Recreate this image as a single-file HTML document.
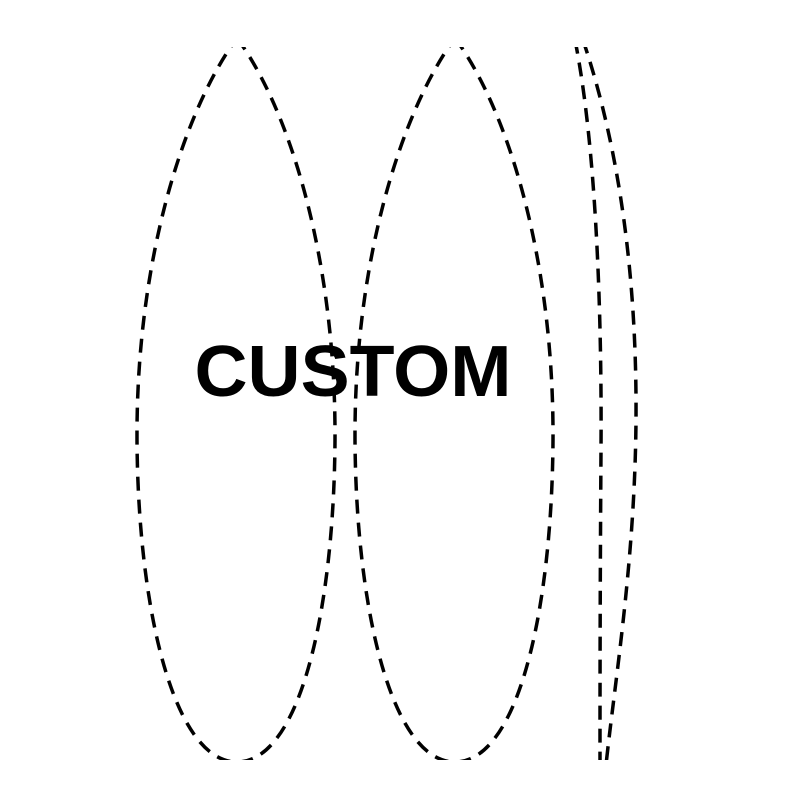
<!DOCTYPE html>
<html><head><meta charset="utf-8"><style>
html,body{margin:0;padding:0;background:#fff;width:800px;height:800px;overflow:hidden}
svg{display:block}
</style></head><body>
<svg width="800" height="800" viewBox="0 0 800 800" xmlns="http://www.w3.org/2000/svg">
<defs><clipPath id="c"><rect x="0" y="47" width="800" height="713"/></clipPath></defs>
<g clip-path="url(#c)" fill="none" stroke="#000" stroke-width="3.5" stroke-dasharray="14 9">
<path d="M237,38 C290,110 336,260 335,440 C334,610 300,762 237,762 C174,762 138,610 137,440 C136,260 184,110 237,38 Z"/>
<path d="M455,38 C508,110 554,260 553,440 C552,610 518,762 455,762 C392,762 356,610 355,440 C354,260 402,110 455,38 Z"/>
<path d="M575,40 C595,140 602,300 601,450 C600,600 600,700 600,765"/>
<path d="M583,40 C620,150 637,280 636,420 C635,560 615,680 606,765"/>
</g>
<text x="353" y="396" text-anchor="middle" font-family="Liberation Sans, sans-serif" font-weight="bold" font-size="72" fill="#000" textLength="317" lengthAdjust="spacingAndGlyphs">CUSTOM</text>
</svg>
</body></html>
